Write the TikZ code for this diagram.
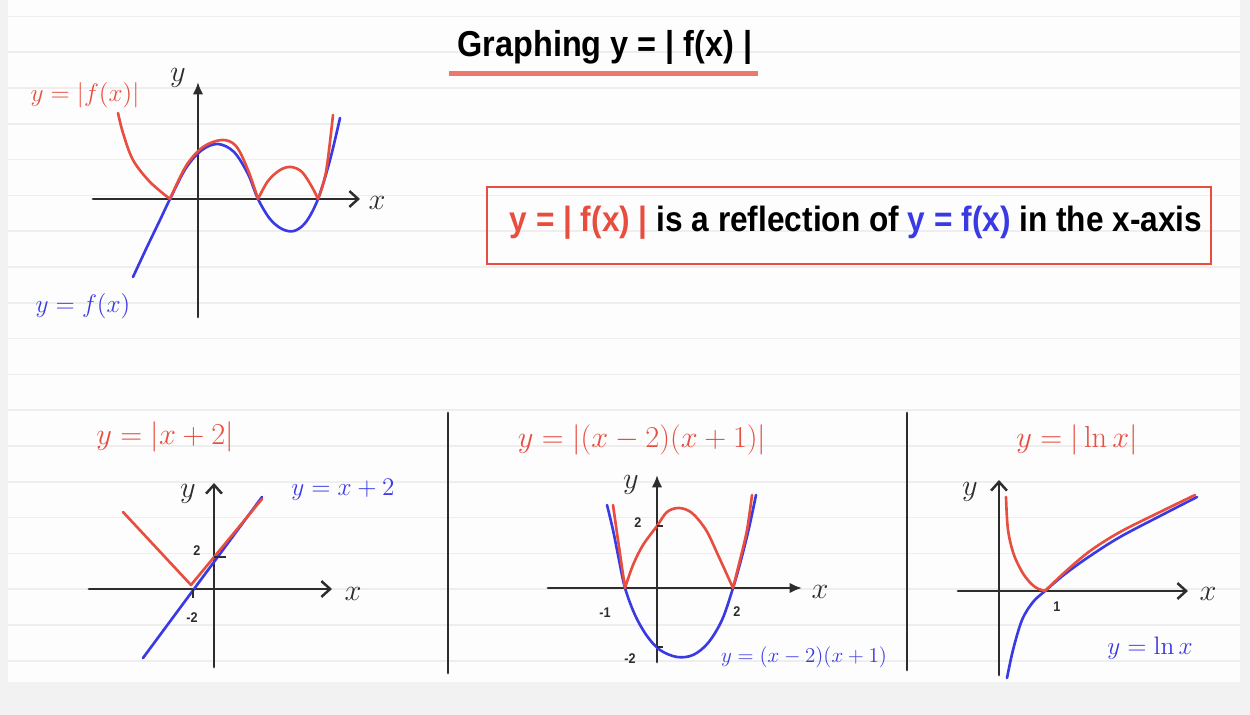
\documentclass[tikz,border=0pt]{standalone}
\usepackage[no-math]{fontspec}
\setmainfont{Liberation Sans}[FakeStretch=0.9]
\usepackage{amsmath}
\usetikzlibrary{arrows.meta}
\definecolor{penred}{RGB}{232,78,64}
\definecolor{penblue}{RGB}{58,58,228}
\definecolor{ink}{RGB}{45,45,45}
\definecolor{ruling}{RGB}{238,238,238}
\definecolor{paper}{RGB}{253,253,253}
\definecolor{edge}{RGB}{242,242,242}
\definecolor{salmon}{RGB}{238,120,108}
\tikzset{
    axis/.style={draw=ink, line width=1.6pt, line cap=round, -{Straight Barb[length=5pt,width=9pt,line width=1.4pt]}},
    axisf/.style={draw=ink, line width=1.6pt, line cap=round, -{Latex[length=7pt,width=6pt]}},
    redcurve/.style={draw=penred, line width=1.5pt, line cap=round, line join=round},
    bluecurve/.style={draw=penblue, line width=1.5pt, line cap=round, line join=round},
    redlbl/.style={text=penred, font=\fontsize{17}{20}\selectfont},
    bluelbl/.style={text=penblue, font=\fontsize{15}{18}\selectfont},
    axlbl/.style={text=ink, font=\fontsize{16}{18}\selectfont},
    num/.style={text=ink, font=\bfseries\fontsize{8}{9}\selectfont, inner sep=1pt},
    tick/.style={draw=ink, line width=1.2pt},
    divider/.style={draw=ink, line width=1.6pt, line cap=round}
}
\begin{document}
\begin{tikzpicture}[x=0.02cm, y=-0.02cm]
    \fill[edge] (0,0) rectangle (1250,715);
    \fill[paper] (8,0) rectangle (1240,682);
    \foreach \k in {-7,...,11}
        \draw[ruling, line width=1pt] (8,267+35.8*\k) -- (1240,267+35.8*\k);

    \node[font=\bfseries\fontsize{20.5}{24}\selectfont, inner sep=1pt] (title) at (605,47) {Graphing y = | f(x) |};
    \draw[salmon, line width=2.8pt] ([xshift=-4pt,yshift=-4pt]title.south west) -- ([xshift=2pt,yshift=-4pt]title.south east);

    \node[draw=penred, line width=1.5pt, minimum width=14.48cm, minimum height=1.54cm] (frame) at (849,225.5) {};
    \node[font=\bfseries\fontsize{20}{23}\selectfont] (rule) at (856,223)
        {\textcolor{penred}{y = | f(x) |} is a reflection of \textcolor{penblue}{y = f(x)} in the x-axis};

    \coordinate (awx) at (93,199);
    \coordinate (aex) at (360,199);
    \coordinate (asy) at (198,317);
    \coordinate (any) at (198,82);
    \draw[axis] (awx) -- (aex);
    \draw[axisf] (asy) -- (any);
    \node[axlbl] (ax) at (377,203) {$x$};
    \node[axlbl] (ay) at (178,78) {$y$};
    \draw[bluecurve] plot[smooth, tension=0.55] coordinates {(133,277) (147,247) (160,220) (170,199) (186,168) (202,150) (218,144) (234,152) (248,174) (258,199) (270,219) (282,229) (294,231) (306,222) (318,199) (330,160) (340,118)};
    \draw[redcurve] plot[smooth, tension=0.55] coordinates {(118,113) (123,133) (133,160) (150,182) (170,199)}
        plot[smooth, tension=0.55] coordinates {(170,199) (186,166) (203,147) (222,140) (236,146) (248,170) (258,199)}
        plot[smooth, tension=0.55] coordinates {(258,199) (268,181) (280,170) (291,167) (302,172) (312,187) (318,199)}
        plot[smooth, tension=0.55] coordinates {(318,199) (326,172) (333,115)};
    \node[redlbl, font=\fontsize{15}{18}\selectfont] (fabs) at (85,95) {$y=|f(x)|$};
    \node[bluelbl] (fplain) at (83,306) {$y=f(x)$};

    \coordinate (d1t) at (448,413);
    \coordinate (d1b) at (448,673);
    \coordinate (d2t) at (907,413);
    \coordinate (d2b) at (907,670);
    \draw[divider] (d1t) -- (d1b);
    \draw[divider] (d2t) -- (d2b);

    \coordinate (bwx) at (89,589);
    \coordinate (bex) at (332,589);
    \coordinate (bsy) at (214,667);
    \coordinate (bny) at (214,483);
    \draw[axis] (bwx) -- (bex);
    \draw[axis] (bsy) -- (bny);
    \node[axlbl] (bx) at (353,594) {$x$};
    \node[axlbl] (by) at (188,494) {$y$};
    \coordinate (bl) at (123,512);
    \coordinate (bv) at (191,585);
    \coordinate (br) at (262,499);
    \coordinate (bb) at (143,658);
    \coordinate (bt) at (262,497);
    \draw[bluecurve] (bb) -- (bt);
    \draw[redcurve] (bl) -- (bv) -- (br);
    \draw[tick] (214,557) -- (226,557);
    \draw[tick] (193,589) -- (193,598);
    \node[num] (b2) at (197,551) {2};
    \node[num] (bm2) at (192,618) {-2};
    \node[redlbl] (babs) at (165,437) {$y=|x+2|$};
    \node[bluelbl] (bplain) at (343,490) {$y=x+2$};

    \coordinate (cwx) at (548,588);
    \coordinate (cex) at (802,588);
    \coordinate (csy) at (657,662);
    \coordinate (cny) at (657,475);
    \draw[axisf] (cwx) -- (cex);
    \draw[axisf] (csy) -- (cny);
    \node[axlbl] (cx) at (820,592) {$x$};
    \node[axlbl] (cy) at (631,485) {$y$};
    \draw[bluecurve] plot[smooth, tension=0.55] coordinates {(607,505) (613,530) (619,560) (625,588) (635,615) (647,636) (660,650) (677,657) (693,655) (708,643) (722,620) (733,588) (741,560) (749,528) (756,495)};
    \draw[redcurve] plot[smooth, tension=0.55] coordinates {(613,505) (618,540) (625,588)}
        plot[smooth, tension=0.55] coordinates {(625,588) (633,565) (643,545) (657,526) (667,512) (679,508) (692,513) (706,530) (718,555) (733,588)}
        plot[smooth, tension=0.55] coordinates {(733,588) (740,560) (747,530) (752,495)};
    \draw[tick] (657,526) -- (663,526);
    \draw[tick] (657,647) -- (663,647);
    \node[num] (c2) at (638,523) {2};
    \node[num] (cm1) at (605,613) {-1};
    \node[num] (cx2) at (737,612) {2};
    \node[num] (cm2) at (630,659) {-2};
    \node[redlbl] (cabs) at (642,440) {$y=|(x-2)(x+1)|$};
    \node[bluelbl, font=\fontsize{13}{16}\selectfont] (cplain) at (804,657) {$y=(x-2)(x+1)$};

    \coordinate (dwx) at (958,591);
    \coordinate (dex) at (1188,591);
    \coordinate (dsy) at (999,675);
    \coordinate (dny) at (999,480);
    \draw[axis] (dwx) -- (dex);
    \draw[axis] (dsy) -- (dny);
    \node[axlbl] (dx) at (1208,594) {$x$};
    \node[axlbl] (dy) at (970,492) {$y$};
    \draw[bluecurve] plot[smooth, tension=0.55] coordinates {(1007,678) (1013,650) (1022,620) (1033,602) (1045,591) (1065,574) (1090,556) (1120,537) (1160,516) (1197,497)};
    \draw[redcurve] plot[smooth, tension=0.55] coordinates {(1006,497) (1008,530) (1014,555) (1024,575) (1035,587) (1045,591)}
        plot[smooth, tension=0.55] coordinates {(1045,591) (1065,572) (1090,551) (1120,532) (1160,512) (1195,495)};
    \node[num] (d1) at (1057,607) {1};
    \node[redlbl] (dabs) at (1077,440) {$y=|\ln x|$};
    \node[bluelbl] (dplain) at (1150,648) {$y=\ln x$};
\end{tikzpicture}
\end{document}
